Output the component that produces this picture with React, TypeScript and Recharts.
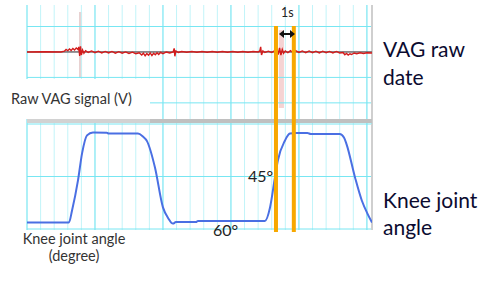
import { LineChart, Line, XAxis, YAxis, ReferenceLine, ReferenceArea } from "recharts";

// time (s) vs raw VAG amplitude (V)
const vagSignal: [number, number][] = [
  [0, 0], [1, 0.01], [2, 0], [2.2, 0.03], [2.3, 0.1], [2.4, 0.05], [2.5, 0.12], [2.6, 0.06], [2.7, 0.14],
  [2.8, 0.08], [2.9, 0.16], [3.0, 0.1], [3.05, 0.2], [3.1, -0.16], [3.15, 0.22], [3.2, -0.12], [3.27, 0.08],
  [3.35, -0.05], [3.45, 0.05], [3.6, -0.02], [3.8, 0.04], [4.0, -0.03], [4.2, 0.03], [4.4, -0.04], [4.6, 0.02],
  [4.8, -0.04], [5.0, 0.02], [5.2, -0.05], [5.4, 0.01], [5.6, -0.05], [5.8, 0.0], [6.0, -0.06], [6.2, -0.01],
  [6.4, -0.07], [6.6, -0.03], [6.75, -0.12], [6.85, -0.05], [6.95, -0.15], [7.05, -0.06], [7.15, -0.13],
  [7.25, -0.04], [7.35, -0.14], [7.45, -0.05], [7.55, -0.11], [7.65, -0.03], [7.75, -0.1], [7.85, -0.02],
  [8.0, -0.07], [8.2, 0.0], [8.4, -0.04], [8.6, 0.0], [8.66, 0.14], [8.7, -0.17], [8.76, 0.04], [8.9, -0.02],
  [9.1, 0.02], [9.4, -0.01], [9.7, 0.02], [10.0, -0.01], [10.3, 0.02], [10.6, -0.01], [10.9, 0.02], [11.2, -0.01],
  [11.5, 0.02], [11.8, -0.01], [12.1, 0.02], [12.4, -0.01], [12.7, 0.02], [13.0, -0.01], [13.3, 0.02], [13.6, 0.0],
  [13.7, 0.04], [13.75, 0.2], [13.8, -0.12], [13.88, 0.04], [14.0, -0.02], [14.2, 0.03], [14.4, -0.02],
  [14.55, 0.04], [14.62, -0.08], [14.7, 0.14], [14.78, -0.1], [14.86, 0.16], [14.94, -0.12], [15.02, 0.1],
  [15.1, -0.05], [15.2, 0.04], [15.35, -0.03], [15.5, 0.05], [15.65, -0.02], [15.8, 0.05], [16.0, -0.02],
  [16.2, 0.04], [16.4, -0.03], [16.6, 0.04], [16.8, -0.03], [17.0, 0.03], [17.2, -0.04], [17.4, 0.03],
  [17.6, -0.03], [17.8, 0.02], [18.0, -0.04], [18.2, 0.02], [18.4, -0.04], [18.6, -0.02], [18.7, -0.11],
  [18.8, -0.06], [18.9, -0.12], [19.0, -0.07], [19.1, -0.1], [19.25, -0.04], [19.4, -0.07], [19.6, -0.03],
  [19.8, -0.06], [20.0, -0.03], [20.3, -0.04],
];

// time (s) vs knee joint angle (degree)
const kneeAngle: [number, number][] = [
  [0, 60.3], [2.47, 60.3], [2.65, 56.3], [3.0, 46.3], [3.24, 37.3], [3.53, 31.3], [3.88, 30.3], [4.7, 30.4],
  [4.8, 30.7], [6.53, 30.7], [6.82, 31.7], [7.06, 33.2], [7.53, 42], [8.0, 55.3], [8.3, 58.8], [8.59, 60.7],
  [8.76, 60.2], [9.94, 60.2], [10.06, 59.8], [14.0, 59.8], [14.3, 55.3], [14.59, 45.3], [14.76, 39.7],
  [15.18, 33], [15.47, 30.7], [15.8, 30.5], [16.5, 30.5], [16.7, 30.8], [18.4, 30.8], [18.65, 32],
  [18.8, 34.2], [19.3, 45.3], [19.7, 53], [20.06, 57.7], [20.3, 60.3],
];

const majorTicks = [0, 4, 8, 12, 16, 20];
const minorTicks = [0.8, 1.6, 2.4, 3.2, 4.8, 5.6, 6.4, 7.2, 8.8, 9.6, 10.4, 11.2, 12.8, 13.6, 14.4, 15.2, 16.8, 17.6, 18.4, 19.2];
const endTime = 20.3;
const signalTicks = [-2, -1, 0, 1];
const angleTicks = [27.5, 45, 62.5];
const markers = [14.65, 15.7]; // the 1 s window
const spikes = [
  { x1: 3.06, x2: 3.24, y1: -1.02, y2: 1.57, fill: "#e2c6c6" },
  { x1: 14.82, x2: 15.12, y1: -2.2, y2: 0.86, fill: "#f3c8c8" },
];

const signalRows = vagSignal.map(([t, v]) => ({ t, v }));
const angleRows = kneeAngle.map(([t, deg]) => ({ t, deg }));

const MINOR = "#c2f4f9";
const MAJOR = "#78e6f2";

function grid(hTicks: number[]) {
  return [
    ...minorTicks.map((t) => <ReferenceLine key={"mi" + t} x={t} stroke={MINOR} strokeWidth={1} />),
    ...majorTicks.map((t) => <ReferenceLine key={"ma" + t} x={t} stroke={MAJOR} strokeWidth={1.2} />),
    ...hTicks.map((v) => <ReferenceLine key={"h" + v} y={v} stroke={MAJOR} strokeWidth={1} />),
    <ReferenceLine key="edge" x={endTime} stroke="#cfcfcf" strokeWidth={2} />,
  ];
}

const label = { position: "absolute" as const, whiteSpace: "nowrap" as const };

export default function App() {
  return (
    <div style={{ position: "absolute", left: 0, top: 0, width: 500, height: 285, background: "#fff", fontFamily: "Lato, sans-serif", overflow: "hidden" }}>
      <div style={{ position: "absolute", left: 0, top: 0 }}>
        <LineChart width={500} height={285} data={signalRows} margin={{ top: 5, right: 128, bottom: 161, left: 27 }}>
          <XAxis dataKey="t" type="number" domain={[0, endTime]} hide allowDataOverflow />
          <YAxis type="number" domain={[-2.83, 1.845]} hide allowDataOverflow />
          {grid(signalTicks)}
          {spikes.map((s, i) => (
            <ReferenceArea key={i} x1={s.x1} x2={s.x2} y1={s.y1} y2={s.y2} fill={s.fill} fillOpacity={0.8} stroke="none" />
          ))}
          <ReferenceLine y={0} stroke="#6a2e2e" strokeWidth={1} />
          <Line type="linear" dataKey="v" stroke="#d41c1c" strokeWidth={1.4} dot={false} isAnimationActive={false} />
        </LineChart>
      </div>

      <div style={{ position: "absolute", left: 0, top: 79, width: 150, height: 40, background: "#fff" }} />
      <div style={{ position: "absolute", left: 27, top: 119, width: 123, height: 4, background: "#d2d2d2" }} />
      <div style={{ position: "absolute", left: 150, top: 119, width: 222, height: 4, background: "#c0c0c0" }} />

      <div style={{ position: "absolute", left: 0, top: 0 }}>
        <LineChart width={500} height={285} data={angleRows} margin={{ top: 124, right: 128, bottom: 55, left: 27 }}>
          <XAxis dataKey="t" type="number" domain={[0, endTime]} hide allowDataOverflow />
          <YAxis type="number" domain={[27.5, 62.83]} reversed hide allowDataOverflow />
          {grid(angleTicks)}
          <Line type="monotone" dataKey="deg" stroke="#4a6fe3" strokeWidth={2} dot={false} isAnimationActive={false} />
          {markers.map((t) => (
            <ReferenceLine
              key={t}
              segment={[{ x: t, y: -5.2 }, { x: t, y: 63.5 }]}
              stroke="#f7a800"
              strokeWidth={4}
              ifOverflow="visible"
            />
          ))}
        </LineChart>
      </div>

      <svg style={{ position: "absolute", left: 279, top: 30 }} width={17} height={8}>
        <polygon points="0,4 5,0 5,3 11,3 11,0 16,4 11,8 11,5 5,5 5,8" fill="#111" />
      </svg>
      <div style={{ ...label, left: 281, top: 5, fontSize: 12.5, color: "#222" }}>1s</div>

      <div style={{ ...label, left: 11, top: 90, fontSize: 14.5, color: "#333" }}>Raw VAG signal (V)</div>
      <div style={{ ...label, left: 0, top: 230, width: 148, textAlign: "center", fontSize: 14.5, lineHeight: "17px", color: "#333", whiteSpace: "normal" }}>
        Knee joint angle<br />(degree)
      </div>
      <div style={{ ...label, left: 213, top: 220, fontSize: 16, color: "#222" }}>60°</div>
      <div style={{ ...label, left: 248, top: 166, fontSize: 16, color: "#222" }}>45°</div>

      <div style={{ ...label, left: 383, top: 35, fontSize: 21, lineHeight: "28px", color: "#0b0b30" }}>
        VAG raw<br />date
      </div>
      <div style={{ ...label, left: 383, top: 186, fontSize: 21, lineHeight: "27px", color: "#0b0b30" }}>
        Knee joint<br />angle
      </div>
    </div>
  );
}
